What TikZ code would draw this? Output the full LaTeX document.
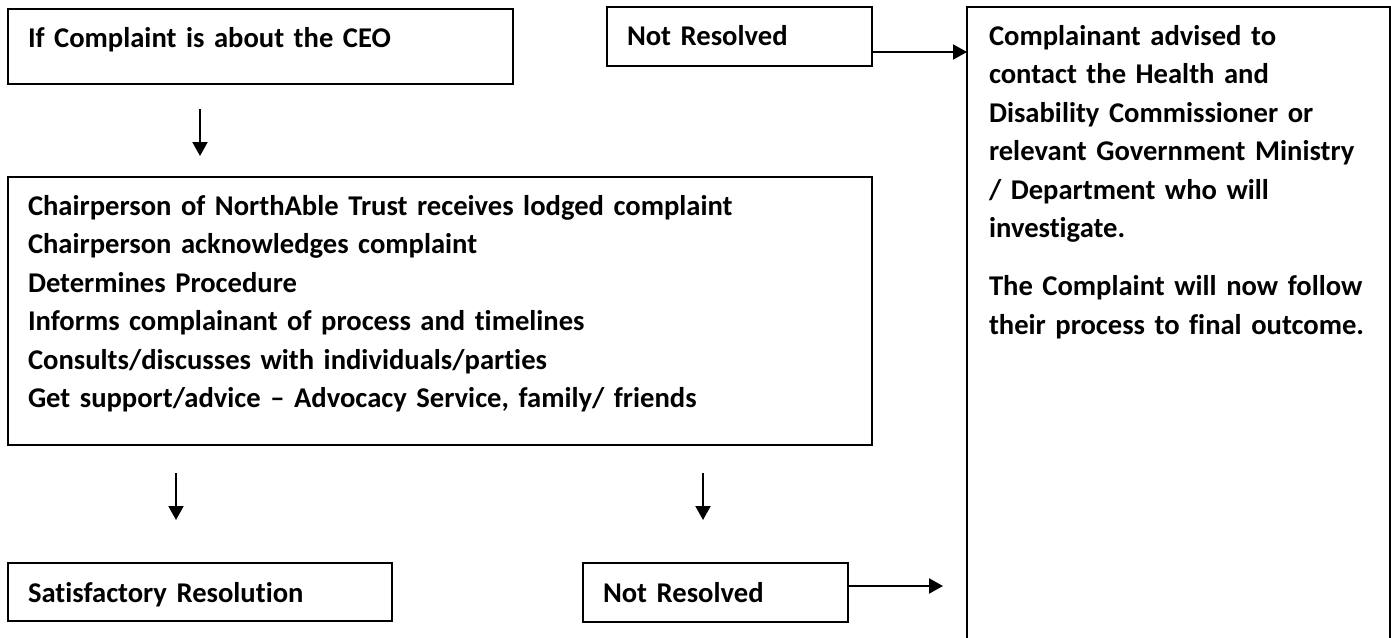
\documentclass[tikz,border=0pt]{standalone}
\usepackage{fontspec}
\setmainfont{Carlito}[Ligatures=CommonOff]
\usetikzlibrary{calc,arrows.meta,positioning}

\begin{document}
\begin{tikzpicture} [x=1pt, y=-1pt,
    box/.style={draw, line width=2.2pt, anchor=north west, inner xsep=20pt, inner ysep=0pt, outer sep=0pt, align=left},
    arr/.style={line width=2pt, -{Triangle[length=14pt,width=15pt]}}
  ]

\tikzstyle{every node}=[font=\fontsize{28.6}{38.5}\selectfont\bfseries]

\useasboundingbox (0,0) rectangle (1391,637);

\node[box, text width=465pt, text height=38pt, text depth=37pt] (ceo) at (8,9) {If Complaint is about the CEO};
\node[box, text width=225pt, text height=38pt, text depth=21pt] (topnr) at (607,7) {Not Resolved};

\node[box, inner xsep=22pt, text width=379pt, text height=38pt, text depth=662pt] (advice) at (967,7)
  {Complainant advised to\\ contact the Health and\\ Disability Commissioner or\\ relevant Government Ministry\\
   / Department who will\\ investigate.\\[19.5pt] The Complaint will now follow\\ their process to final outcome.};

\node[box, text width=824pt, text height=38pt, text depth=230pt] (chair) at (8,177)
  {Chairperson of NorthAble Trust receives lodged complaint\\ Chairperson acknowledges complaint\\
   Determines Procedure\\ Informs complainant of process and timelines\\
   Consults/discusses with individuals/parties\\ Get support/advice -- Advocacy Service, family/ friends};

\node[box, text width=344pt, text height=39pt, text depth=19pt] (sat) at (8,563) {Satisfactory Resolution};
\node[box, text width=225pt, text height=39pt, text depth=20pt] (botnr) at (583,563) {Not Resolved};

% arrows
\draw[arr, shorten <=25pt, shorten >=21pt] ($(ceo.south west)+(192,0)$) -- ($(chair.north west)+(192,0)$);
\draw[arr, shorten <=28pt, shorten >=43pt] ($(chair.south west)+(168,0)$) -- ($(sat.north west)+(168,0)$);
\draw[arr, shorten <=28pt, shorten >=43pt] ($(chair.south west)+(695,0)$) -- ($(botnr.north west)+(120,0)$);

\draw[arr] (topnr.south east) ++(0,-14) coordinate (t1) -- (t1 -| advice.west);
\draw[arr, shorten >=24pt] (botnr.south east) ++(0,-36) coordinate (b1) -- (b1 -| advice.west);

\end{tikzpicture}
\end{document}
